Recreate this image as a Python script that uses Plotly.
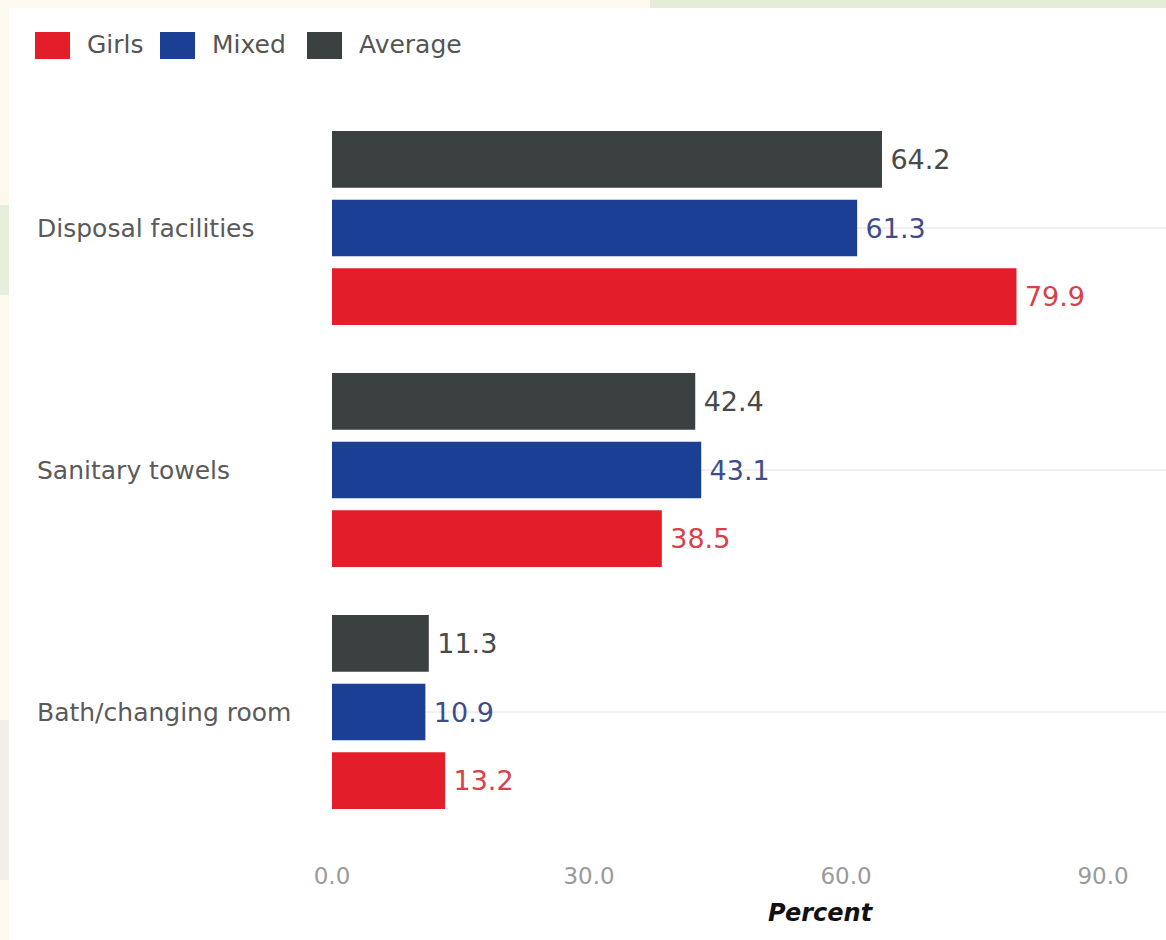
import plotly.graph_objects as go

# Data
categories = ["Disposal facilities", "Sanitary towels", "Bath/changing room"]
girls = [79.9, 38.5, 13.2]
mixed = [61.3, 43.1, 10.9]
average = [64.2, 42.4, 11.3]
x_tickvals = [0, 30, 60, 90]
x_ticktext = ["0.0", "30.0", "60.0", "90.0"]

series_names = ["Girls", "Mixed", "Average"]
bar_colors = ["#e31e2a", "#1b3f94", "#3b4141"]
label_colors = ["#d8404a", "#3f4c8c", "#474a4a"]

FONT = "DejaVu Sans"
W_FIG, H_FIG = 1166, 940
L, R, T, B = 332, 0, 107, 107
PW, PH = W_FIG - L - R, H_FIG - T - B


def px(x):
    return (x - L) / PW


def py(y):
    return (T + PH - y) / PH


fig = go.Figure()
for name, vals, col, lcol in zip(series_names, [girls, mixed, average], bar_colors, label_colors):
    fig.add_trace(go.Bar(
        name=name,
        y=categories,
        x=vals,
        orientation="h",
        marker=dict(color=col, line=dict(width=0)),
        text=vals,
        texttemplate="\u2009%{x:.1f}",
        textposition="outside",
        constraintext="none",
        cliponaxis=False,
        textfont=dict(family=FONT, size=27, color=lcol),
        showlegend=False,
        hoverinfo="skip",
    ))

shapes = [
    # page background card
    dict(type="rect", xref="paper", yref="paper", x0=px(9), x1=px(1166), y0=py(8), y1=py(940),
         fillcolor="white", line=dict(width=0), layer="below"),
    dict(type="rect", xref="paper", yref="paper", x0=px(650), x1=px(1166), y0=py(0), y1=py(8),
         fillcolor="#e5ecd7", line=dict(width=0), layer="below"),
    dict(type="rect", xref="paper", yref="paper", x0=px(0), x1=px(9), y0=py(205), y1=py(295),
         fillcolor="#e8eedc", line=dict(width=0), layer="below"),
    dict(type="rect", xref="paper", yref="paper", x0=px(0), x1=px(9), y0=py(720), y1=py(880),
         fillcolor="#f2efeb", line=dict(width=0), layer="below"),
]

annotations = []
# custom legend: colour swatches and names
legend_pos = [(35, 85), (160, 210), (307, 357)]
for (sx, tx), name, col in zip(legend_pos, series_names, bar_colors):
    shapes.append(dict(type="rect", xref="paper", yref="paper", x0=px(sx), x1=px(sx + 35),
                       y0=py(59), y1=py(32), fillcolor=col, line=dict(width=0)))
    annotations.append(dict(text=name, xref="paper", yref="paper", x=px(tx), y=py(45),
                            xanchor="left", yanchor="middle", showarrow=False,
                            font=dict(family=FONT, size=25, color="#555555")))

# left-aligned category labels
for c in categories:
    annotations.append(dict(text=c, xref="paper", yref="y", x=px(35), y=c,
                            xanchor="left", yanchor="middle", showarrow=False,
                            font=dict(family=FONT, size=25, color="#5a5a5a")))

# x axis title
annotations.append(dict(text="<b><i>Percent</i></b>", xref="paper", yref="paper",
                        x=px(821), y=py(913), xanchor="center", yanchor="middle",
                        showarrow=False, font=dict(family=FONT, size=24, color="#111111")))

fig.update_layout(
    width=W_FIG, height=H_FIG,
    margin=dict(l=L, r=R, t=T, b=B, pad=0),
    paper_bgcolor="#fdf9ee",
    plot_bgcolor="rgba(0,0,0,0)",
    barmode="group",
    bargap=0.149,
    bargroupgap=0.174,
    shapes=shapes,
    annotations=annotations,
    xaxis=dict(
        range=[0, PW / (257 / 30)],
        tickvals=x_tickvals,
        ticktext=x_ticktext,
        showgrid=False,
        zeroline=False,
        showline=False,
        ticks="",
        ticklabelstandoff=27,
        tickfont=dict(family=FONT, size=23, color="#9a9a9a"),
        fixedrange=True,
    ),
    yaxis=dict(
        categoryorder="array",
        categoryarray=categories[::-1],
        range=[-0.5, 2.5],
        showticklabels=False,
        showgrid=True,
        gridcolor="#f0f0f0",
        gridwidth=2,
        zeroline=False,
        showline=False,
        ticks="",
        fixedrange=True,
    ),
)

fig.write_html("out.html")
